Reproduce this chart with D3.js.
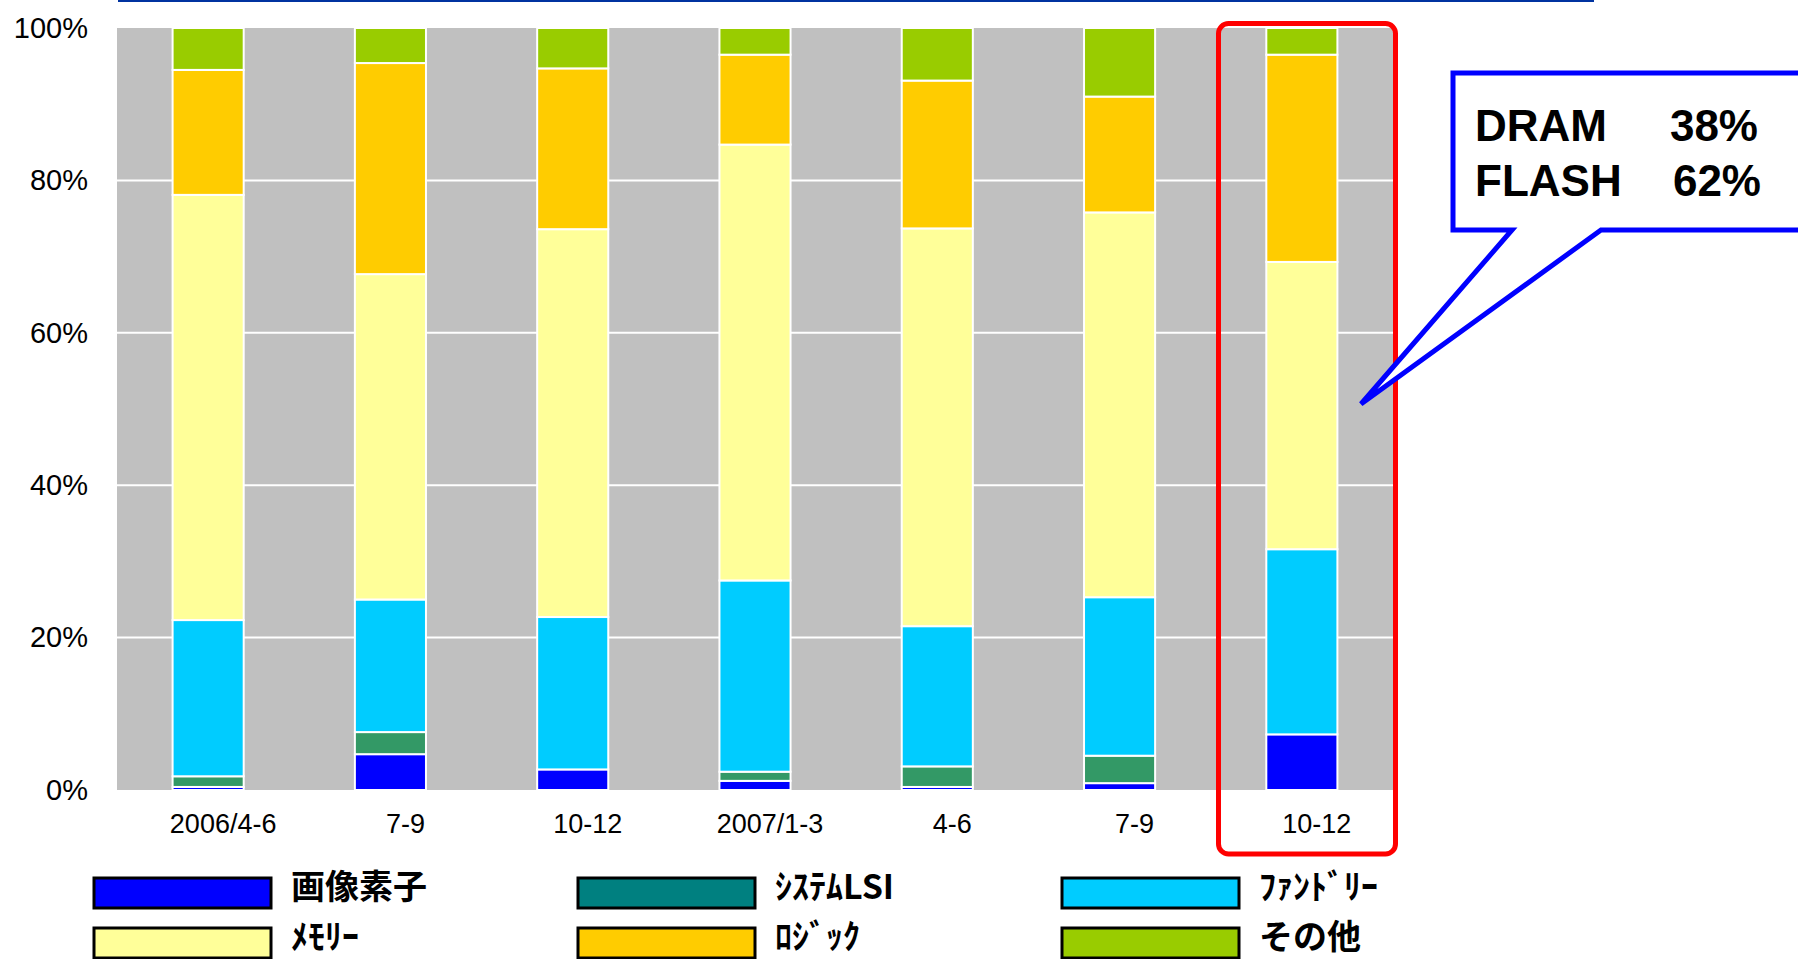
<!DOCTYPE html>
<html><head><meta charset="utf-8">
<script src="https://cdn.jsdelivr.net/npm/d3@7"></script>
<style>body{margin:0;background:#fff;overflow:hidden} svg{display:block}</style>
</head><body><svg id="c" width="1798" height="959"></svg>
<script>
// ---- data ----
const categories = ["2006/4-6","7-9","10-12","2007/1-3","4-6","7-9","10-12"];
const seriesNames = ["画像素子","ｼｽﾃﾑLSI","ﾌｧﾝﾄﾞﾘｰ","ﾒﾓﾘｰ","ﾛｼﾞｯｸ","その他"];
const imaging   = [0.4, 4.7, 2.7, 1.2, 0.4, 0.9, 7.3];
const systemLSI = [1.4, 2.9, 0.0, 1.2, 2.7, 3.6, 0.0];
const foundry   = [20.5, 17.4, 20.0, 25.1, 18.4, 20.8, 24.3];
const memory    = [55.8, 42.7, 50.9, 57.2, 52.2, 50.5, 37.7];
const logic     = [16.4, 27.7, 21.1, 11.8, 19.4, 15.2, 27.2];
const other     = [5.5, 4.6, 5.3, 3.5, 6.9, 9.0, 3.5];
const yTicks = [0, 20, 40, 60, 80, 100];
const calloutLines = [["DRAM", "38%"], ["FLASH", "62%"]];

const barColors = ["#0000FF","#339966","#00CCFF","#FFFF99","#FFCC00","#99CC00"];
const legendColors = ["#0000FF","#008080","#00CCFF","#FFFF99","#FFCC00","#99CC00"];

const seriesValues = [imaging, systemLSI, foundry, memory, logic, other];
const rows = categories.map((c, i) => {
  const r = {idx: i};
  seriesNames.forEach((s, k) => r[s] = seriesValues[k][i]);
  return r;
});

const svg = d3.select("#c");
const plot = {left: 117, right: 1393, top: 28, bottom: 790};

const x = d3.scaleBand().domain(d3.range(categories.length))
  .range([plot.left, plot.right]).paddingInner(0.61).paddingOuter(0.305);
const y = d3.scaleLinear().domain([0, 100]).range([plot.bottom, plot.top]);

// top blue rule
svg.append("line").attr("x1", 118).attr("x2", 1594).attr("y1", 1).attr("y2", 1)
  .attr("stroke", "#0033A0").attr("stroke-width", 2);

// plot background
svg.append("rect").attr("x", plot.left).attr("y", plot.top)
  .attr("width", plot.right - plot.left).attr("height", plot.bottom - plot.top)
  .attr("fill", "#C0C0C0");

// gridlines
svg.append("g").selectAll("line").data(yTicks.filter(t => t > 0 && t < 100)).join("line")
  .attr("x1", plot.left).attr("x2", plot.right)
  .attr("y1", d => y(d)).attr("y2", d => y(d))
  .attr("stroke", "#fff").attr("stroke-width", 2);

// stacked bars
const stack = d3.stack().keys(seriesNames)(rows);
svg.append("g").selectAll("g").data(stack).join("g")
  .attr("fill", (d, i) => barColors[i])
  .selectAll("rect").data(d => d.filter(p => p[1] - p[0] > 0)).join("rect")
  .attr("x", d => x(d.data.idx))
  .attr("width", x.bandwidth())
  .attr("y", d => y(d[1]))
  .attr("height", d => y(d[0]) - y(d[1]))
  .attr("stroke", "#fff").attr("stroke-width", 2);

// y axis labels
const yAxis = svg.append("g").attr("transform", `translate(${plot.left},0)`)
  .call(d3.axisLeft(y).tickValues(yTicks).tickFormat(d => d + "%").tickSize(0).tickPadding(29));
yAxis.select(".domain").remove();
yAxis.selectAll("text").attr("font-family", "Liberation Sans, Arial, sans-serif")
  .attr("font-size", 29).attr("fill", "#000");

// x axis labels
const xAxis = svg.append("g").attr("transform", `translate(15,${plot.bottom})`)
  .call(d3.axisBottom(x).tickFormat(i => categories[i]).tickSize(0).tickPadding(24));
xAxis.select(".domain").remove();
xAxis.selectAll("text").attr("font-family", "Liberation Sans, Arial, sans-serif")
  .attr("font-size", 27).attr("fill", "#000");

// red highlight box
svg.append("rect").attr("x", 1218.5).attr("y", 23.5).attr("width", 177).attr("height", 830.5)
  .attr("rx", 10).attr("fill", "none").attr("stroke", "#FF0000").attr("stroke-width", 5);

// callout
svg.append("path")
  .attr("d", "M1453,73 L1850,73 L1850,230 L1601,230 L1361,404 L1512,230 L1453,230 Z")
  .attr("fill", "#fff").attr("stroke", "#0000FF").attr("stroke-width", 5);
const cg = svg.append("g").attr("font-family", "Liberation Sans, Arial, sans-serif")
  .attr("font-weight", "bold").attr("font-size", 44).attr("fill", "#000");
calloutLines.forEach((l, i) => {
  cg.append("text").attr("x", 1475).attr("y", 141 + i * 55).text(l[0]);
  cg.append("text").attr("x", 1758 + i * 3).attr("y", 141 + i * 55).attr("text-anchor", "end").text(l[1]);
});

// legend
const legCols = [94, 578, 1062];
const legRowsY = [878, 928];
const legTextY = [899, 949];
const lg = svg.append("g");
seriesNames.forEach((s, i) => {
  const cx = legCols[i % 3], row = Math.floor(i / 3), ry = legRowsY[row];
  lg.append("rect").attr("x", cx).attr("y", ry).attr("width", 177).attr("height", 30)
    .attr("fill", legendColors[i]).attr("stroke", "#000").attr("stroke-width", 3);
  lg.append("text").attr("x", cx + 197).attr("y", legTextY[row])
    .attr("font-family", "Noto Sans CJK JP, sans-serif").attr("font-weight", "bold")
    .attr("font-size", 34).attr("fill", "#000").text(s);
});
</script></body></html>
